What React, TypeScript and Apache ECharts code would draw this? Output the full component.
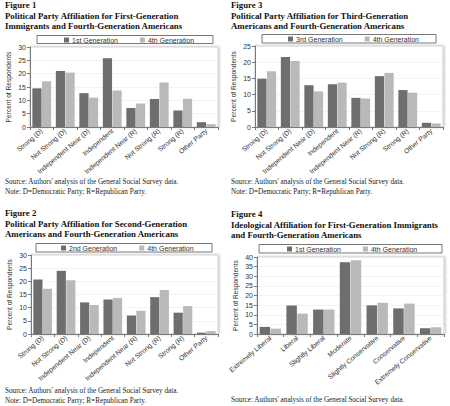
import React, { useEffect, useRef } from "react";
import * as echarts from "echarts";

const partyCategories = [
  "Strong (D)",
  "Not Strong (D)",
  "Independent Near (D)",
  "Independent",
  "Independent Near (R)",
  "Not Strong (R)",
  "Strong (R)",
  "Other Party",
];
const ideologyCategories = [
  "Extremely Liberal",
  "Liberal",
  "Slightly Liberal",
  "Moderate",
  "Slightly Conservative",
  "Conservative",
  "Extremely Conservative",
];

const fig1First = [14.5, 21.0, 12.7, 25.8, 7.1, 10.5, 6.2, 1.8];
const fig1Fourth = [17.2, 20.4, 11.0, 13.7, 8.8, 16.7, 10.6, 1.1];
const fig2Second = [20.7, 24.0, 12.0, 13.1, 7.0, 14.0, 8.1, 0.5];
const fig2Fourth = [17.2, 20.4, 11.0, 13.7, 8.8, 16.7, 10.6, 1.1];
const fig3Third = [14.9, 21.6, 12.9, 13.2, 9.0, 15.7, 11.4, 1.3];
const fig3Fourth = [17.2, 20.4, 11.0, 13.7, 8.8, 16.7, 10.6, 1.1];
const fig4First = [3.7, 14.8, 12.7, 37.3, 14.9, 13.3, 3.0];
const fig4Fourth = [2.8, 10.6, 12.7, 38.3, 16.2, 15.8, 3.5];

const yMax = [30, 30, 25, 40];

const DARK = "#6e6e6e";
const LIGHT = "#b9b9b9";
const SANS = "Liberation Sans";
const SERIF = "Liberation Serif";

type Panel = {
  fig: string;
  title1: string;
  title2: string;
  cats: string[];
  a: number[];
  b: number[];
  aName: string;
  bName: string;
  max: number;
  grid: { left: number; top: number; width: number; height: number };
  tx: number;
  ty: number;
  legendBox: { x: number; y: number; w: number; h: number };
  legendLeft: number;
  sourceY: number;
  note: boolean;
};

const panels: Panel[] = [
  {
    fig: "Figure 1",
    title1: "Political Party Affiliation for First-Generation",
    title2: "Immigrants and Fourth-Generation Americans",
    cats: partyCategories,
    a: fig1First,
    b: fig1Fourth,
    aName: "1st Generation",
    bName: "4th Generation",
    max: yMax[0],
    grid: { left: 30, top: 47, width: 188, height: 80 },
    tx: 5,
    ty: 5,
    legendBox: { x: 37, y: 35.5, w: 176, h: 8 },
    legendLeft: 64,
    sourceY: 182,
    note: true,
  },
  {
    fig: "Figure 2",
    title1: "Political Party Affiliation for Second-Generation",
    title2: "Americans and Fourth-Generation Americans",
    cats: partyCategories,
    a: fig2Second,
    b: fig2Fourth,
    aName: "2nd Generation",
    bName: "4th Generation",
    max: yMax[1],
    grid: { left: 31, top: 255, width: 187, height: 79 },
    tx: 5,
    ty: 213,
    legendBox: { x: 36, y: 243.5, w: 176, h: 8.5 },
    legendLeft: 61,
    sourceY: 391,
    note: true,
  },
  {
    fig: "Figure 3",
    title1: "Political Party Affiliation for Third-Generation",
    title2: "Americans and Fourth-Generation Americans",
    cats: partyCategories,
    a: fig3Third,
    b: fig3Fourth,
    aName: "3rd Generation",
    bName: "4th Generation",
    max: yMax[2],
    grid: { left: 255, top: 46, width: 188, height: 81 },
    tx: 231,
    ty: 5,
    legendBox: { x: 262, y: 34.5, w: 174, h: 8.5 },
    legendLeft: 288,
    sourceY: 182,
    note: true,
  },
  {
    fig: "Figure 4",
    title1: "Ideological Affiliation for First-Generation Immigrants",
    title2: "and Fourth-Generation Americans",
    cats: ideologyCategories,
    a: fig4First,
    b: fig4Fourth,
    aName: "1st Generation",
    bName: "4th Generation",
    max: yMax[3],
    grid: { left: 257, top: 257, width: 187, height: 77 },
    tx: 231,
    ty: 214,
    legendBox: { x: 259, y: 244.5, w: 183, h: 8.5 },
    legendLeft: 287,
    sourceY: 400,
    note: false,
  },
];

function buildOption() {
  const grid: any[] = [];
  const xAxis: any[] = [];
  const yAxis: any[] = [];
  const series: any[] = [];
  const legend: any[] = [];
  const graphic: any[] = [];

  const titleStyle = (text: string) => ({
    text,
    fontSize: 8.8,
    fontWeight: "bold",
    fontFamily: SERIF,
    fill: "#111",
    verticalAlign: "middle",
  });
  const noteStyle = (text: string) => ({
    text,
    fontSize: 7.2,
    fontFamily: SERIF,
    fill: "#222",
    verticalAlign: "middle",
  });

  panels.forEach((p, i) => {
    grid.push({
      ...p.grid,
      show: true,
      borderColor: "#cfcfcf",
      borderWidth: 1,
      backgroundColor: "#ffffff",
      shadowColor: "rgba(0,0,0,0.25)",
      shadowBlur: 2,
      shadowOffsetX: 1,
      shadowOffsetY: 0,
    });
    xAxis.push({
      type: "category",
      gridIndex: i,
      data: p.cats,
      axisLine: { show: true, lineStyle: { color: "#7a7a7a", width: 1 } },
      axisTick: { show: true, length: 3, lineStyle: { color: "#7a7a7a" } },
      axisLabel: {
        rotate: 40,
        interval: 0,
        fontSize: 6.8,
        fontFamily: SANS,
        color: "#333",
        margin: 3,
      },
    });
    yAxis.push({
      type: "value",
      gridIndex: i,
      min: 0,
      max: p.max,
      interval: 5,
      name: "Percent of Respondents",
      nameLocation: "middle",
      nameGap: 18,
      nameTextStyle: { fontSize: 6.6, fontFamily: SANS, color: "#333" },
      axisLine: { show: true, lineStyle: { color: "#7a7a7a", width: 1 } },
      axisTick: { show: true, length: 3, lineStyle: { color: "#7a7a7a" } },
      axisLabel: { fontSize: 7, fontFamily: SANS, color: "#333", margin: 4 },
      splitLine: { show: true, lineStyle: { color: "#ebebeb", width: 0.6 } },
    });
    series.push(
      {
        type: "bar",
        name: p.aName,
        xAxisIndex: i,
        yAxisIndex: i,
        data: p.a,
        barGap: "4%",
        barCategoryGap: "20%",
        itemStyle: { color: DARK },
      },
      {
        type: "bar",
        name: p.bName,
        xAxisIndex: i,
        yAxisIndex: i,
        data: p.b,
        barGap: "4%",
        barCategoryGap: "20%",
        itemStyle: { color: LIGHT },
      }
    );
    legend.push({
      data: [p.aName, p.bName],
      left: p.legendLeft,
      top: p.legendBox.y + 1,
      padding: 0,
      itemWidth: 5,
      itemHeight: 5,
      itemGap: 22,
      icon: "rect",
      textStyle: { fontSize: 7, fontFamily: SANS, color: "#333", padding: [0, 0, 0, -2] },
    });
    graphic.push(
      {
        type: "rect",
        shape: { x: p.legendBox.x, y: p.legendBox.y, width: p.legendBox.w, height: p.legendBox.h },
        style: { fill: "#fff", stroke: "#555", lineWidth: 0.8 },
        z: -1,
      },
      { type: "text", x: p.tx, y: p.ty, style: titleStyle(p.fig) },
      { type: "text", x: p.tx, y: p.ty + 11, style: titleStyle(p.title1) },
      { type: "text", x: p.tx, y: p.ty + 21, style: titleStyle(p.title2) },
      {
        type: "text",
        x: p.tx,
        y: p.sourceY,
        style: noteStyle("Source: Authors' analysis of the General Social Survey data."),
      }
    );
    if (p.note) {
      graphic.push({
        type: "text",
        x: p.tx,
        y: p.sourceY + 10,
        style: noteStyle("Note: D=Democratic Party; R=Republican Party."),
      });
    }
  });

  return {
    animation: false,
    backgroundColor: "#ffffff",
    grid,
    xAxis,
    yAxis,
    series,
    legend,
    graphic,
  };
}

export default function App() {
  const ref = useRef<HTMLDivElement>(null);
  useEffect(() => {
    if (!ref.current) return;
    const chart = echarts.init(ref.current, undefined, { renderer: "svg" });
    chart.setOption(buildOption());
    return () => chart.dispose();
  }, []);
  return (
    <div
      ref={ref}
      style={{ position: "absolute", left: 0, top: 0, width: 450, height: 406 }}
    />
  );
}
